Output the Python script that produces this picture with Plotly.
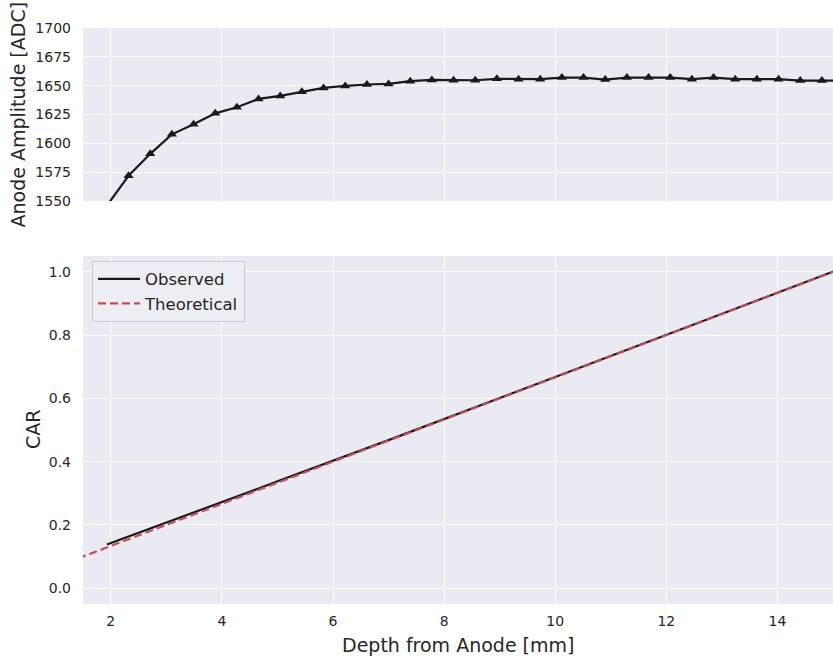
import plotly.graph_objects as go

# Depth positions of the measurement slices [mm]
depth = [1.93, 2.32, 2.71, 3.10, 3.49, 3.88, 4.27, 4.66, 5.05, 5.44,
         5.83, 6.22, 6.61, 7.00, 7.39, 7.78, 8.17, 8.56, 8.95, 9.34,
         9.73, 10.12, 10.51, 10.90, 11.29, 11.68, 12.07, 12.46, 12.85, 13.24,
         13.63, 14.02, 14.41, 14.80, 15.19]

# Mean anode amplitude per slice [ADC]
anode_amp = [1546.0, 1571.8, 1590.9, 1607.8, 1616.5, 1626.0, 1631.3, 1638.5, 1641.1, 1644.8,
             1648.0, 1649.8, 1651.0, 1651.5, 1653.9, 1655.0, 1654.7, 1654.7, 1655.9, 1655.6,
             1655.6, 1657.0, 1657.0, 1655.3, 1657.0, 1657.0, 1657.0, 1655.6, 1657.0, 1655.6,
             1655.6, 1655.6, 1654.4, 1654.4, 1654.4]

# Observed cathode/anode ratio per slice
car_observed = [0.138, 0.163, 0.188, 0.214, 0.239, 0.265, 0.290, 0.315, 0.341, 0.366,
                0.392, 0.417, 0.443, 0.468, 0.494, 0.520, 0.546, 0.571, 0.597, 0.623,
                0.649, 0.675, 0.701, 0.727, 0.753, 0.779, 0.805, 0.831, 0.857, 0.883,
                0.909, 0.935, 0.961, 0.987, 1.013]

# Theoretical CAR (linear in depth across the 15 mm drift gap)
theory_depth = [0.0, 15.0]
theory_car = [0.0, 1.0]

amp_ticks = [1550, 1575, 1600, 1625, 1650, 1675, 1700]
car_ticks = [0.0, 0.2, 0.4, 0.6, 0.8, 1.0]
depth_ticks = [2, 4, 6, 8, 10, 12, 14]

TEXT = "#262626"
BG = "#EAEAF2"
FONT = "DejaVu Sans"

fig = go.Figure()

fig.add_trace(go.Scatter(
    x=depth, y=anode_amp, mode="lines+markers",
    line=dict(color="#1a1a1a", width=2.2),
    marker=dict(symbol="triangle-up", size=9, color="#1a1a1a"),
    xaxis="x2", yaxis="y2", showlegend=False, cliponaxis=True,
))

fig.add_trace(go.Scatter(
    x=depth, y=car_observed, mode="lines", name="Observed",
    line=dict(color="#1a1a1a", width=2.2),
    xaxis="x", yaxis="y",
))

fig.add_trace(go.Scatter(
    x=theory_depth, y=theory_car, mode="lines", name="Theoretical",
    line=dict(color="#C44E52", width=2.2, dash="8px,4px"),
    xaxis="x", yaxis="y",
))

axis_common = dict(
    showgrid=True, gridcolor="white", gridwidth=1.3,
    zeroline=False, showline=False, ticks="",
    tickfont=dict(family=FONT, size=14, color=TEXT),
)

fig.update_layout(
    width=833, height=660,
    margin=dict(l=83, r=0, t=28, b=56),
    paper_bgcolor="white", plot_bgcolor=BG,
    font=dict(family=FONT, color=TEXT),
    xaxis=dict(domain=[0, 1], range=[1.5, 15], tickvals=depth_ticks,
               anchor="y", ticklabelstandoff=7, **axis_common),
    yaxis=dict(domain=[0, 0.6042], range=[-0.05, 1.05], tickvals=car_ticks,
               tickformat=".1f", anchor="x", ticklabelstandoff=11, **axis_common),
    xaxis2=dict(domain=[0, 1], range=[1.5, 15], tickvals=depth_ticks,
                matches="x", anchor="y2", showticklabels=False, **axis_common),
    yaxis2=dict(domain=[0.6997, 1.0], range=[1550, 1700], tickvals=amp_ticks,
                anchor="x2", ticklabelstandoff=11, **axis_common),
    legend=dict(
        x=0.012, y=0.596, xanchor="left", yanchor="top",
        bgcolor="#EDEDF4", bordercolor="#CCCCCC", borderwidth=1,
        font=dict(family=FONT, size=16.5, color=TEXT),
        itemwidth=42, tracegroupgap=0,
    ),
    annotations=[
        dict(text="Anode Amplitude [ADC]", xref="paper", yref="paper",
             x=-83 / 750 + 18 / 750, y=(0.6997 + 1.0) / 2, textangle=-90,
             showarrow=False, xanchor="center", yanchor="middle",
             font=dict(family=FONT, size=19, color=TEXT)),
        dict(text="CAR", xref="paper", yref="paper",
             x=-83 / 750 + 33 / 750, y=0.6042 / 2, textangle=-90,
             showarrow=False, xanchor="center", yanchor="middle",
             font=dict(family=FONT, size=19, color=TEXT)),
        dict(text="Depth from Anode [mm]", xref="paper", yref="paper",
             x=0.5, y=-41 / 576, showarrow=False,
             xanchor="center", yanchor="middle",
             font=dict(family=FONT, size=19, color=TEXT)),
    ],
)

fig.write_html("out.html")
